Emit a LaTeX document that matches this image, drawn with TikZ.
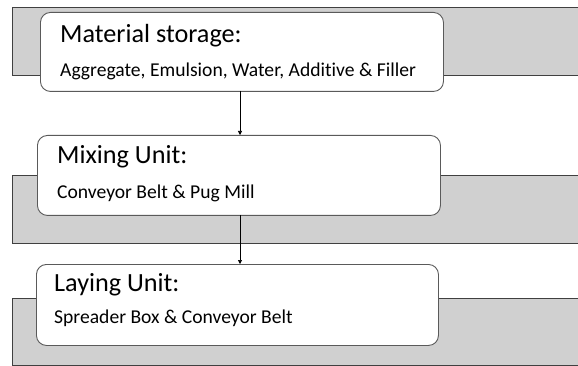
\documentclass[tikz,border=0pt]{standalone}
\usepackage{fontspec}
\setmainfont{Carlito}[Ligatures={NoCommon,NoContextual}]
\usetikzlibrary{arrows.meta}
\definecolor{band}{HTML}{D0D0D0}
\definecolor{bandline}{HTML}{404040}
\definecolor{boxline}{HTML}{5A5A5A}
\tikzset{
  bandrect/.style={fill=band, draw=bandline, line width=0.9pt},
  stagebox/.style={draw=boxline, fill=white, rounded corners=10pt, line width=0.9pt},
  titletxt/.style={anchor=base west, inner sep=0pt, font=\fontsize{26.2}{30}\selectfont},
  subtxt/.style={anchor=base west, inner sep=0pt, font=\fontsize{19.6}{23}\selectfont},
  flow/.style={draw=black, line width=0.6pt, -{Triangle[length=4pt,width=4pt]}}
}
\begin{document}
\begin{tikzpicture}[x=1pt,y=-1pt]
\useasboundingbox (0,0) rectangle (578,366);
\clip (0,0) rectangle (578,366);
% gray bands
\path[bandrect] (12,7) rectangle (600,75);
\path[bandrect] (12,175) rectangle (600,243);
\path[bandrect] (12,298) rectangle (600,365);
% white boxes
\node[stagebox, minimum width=403pt, minimum height=79pt, anchor=north west] (ms) at (40,12) {};
\node[stagebox, minimum width=403pt, minimum height=80pt, anchor=north west] (mu) at (37,135) {};
\node[stagebox, minimum width=402pt, minimum height=81pt, anchor=north west] (lu) at (36,264) {};
% texts
\node[titletxt] (t1) at (60,43) {Material storage:};
\node[subtxt] (s1) at (60,77) {Aggregate, Emulsion, Water, Additive \& Filler};
\node[titletxt] (t2) at (57,164) {Mixing Unit:};
\node[subtxt] (s2) at (57,199) {Conveyor Belt \& Pug Mill};
\node[titletxt] (t3) at (54,291) {Laying Unit:};
\node[subtxt] (s3) at (54,323) {Spreader Box \& Conveyor Belt};
% arrows
\coordinate (a1s) at (240,91);
\coordinate (a1e) at (240,135);
\coordinate (a2s) at (240,215);
\coordinate (a2e) at (240,264);
\draw[flow] (a1s) -- (a1e);
\draw[flow] (a2s) -- (a2e);
\end{tikzpicture}
\end{document}
